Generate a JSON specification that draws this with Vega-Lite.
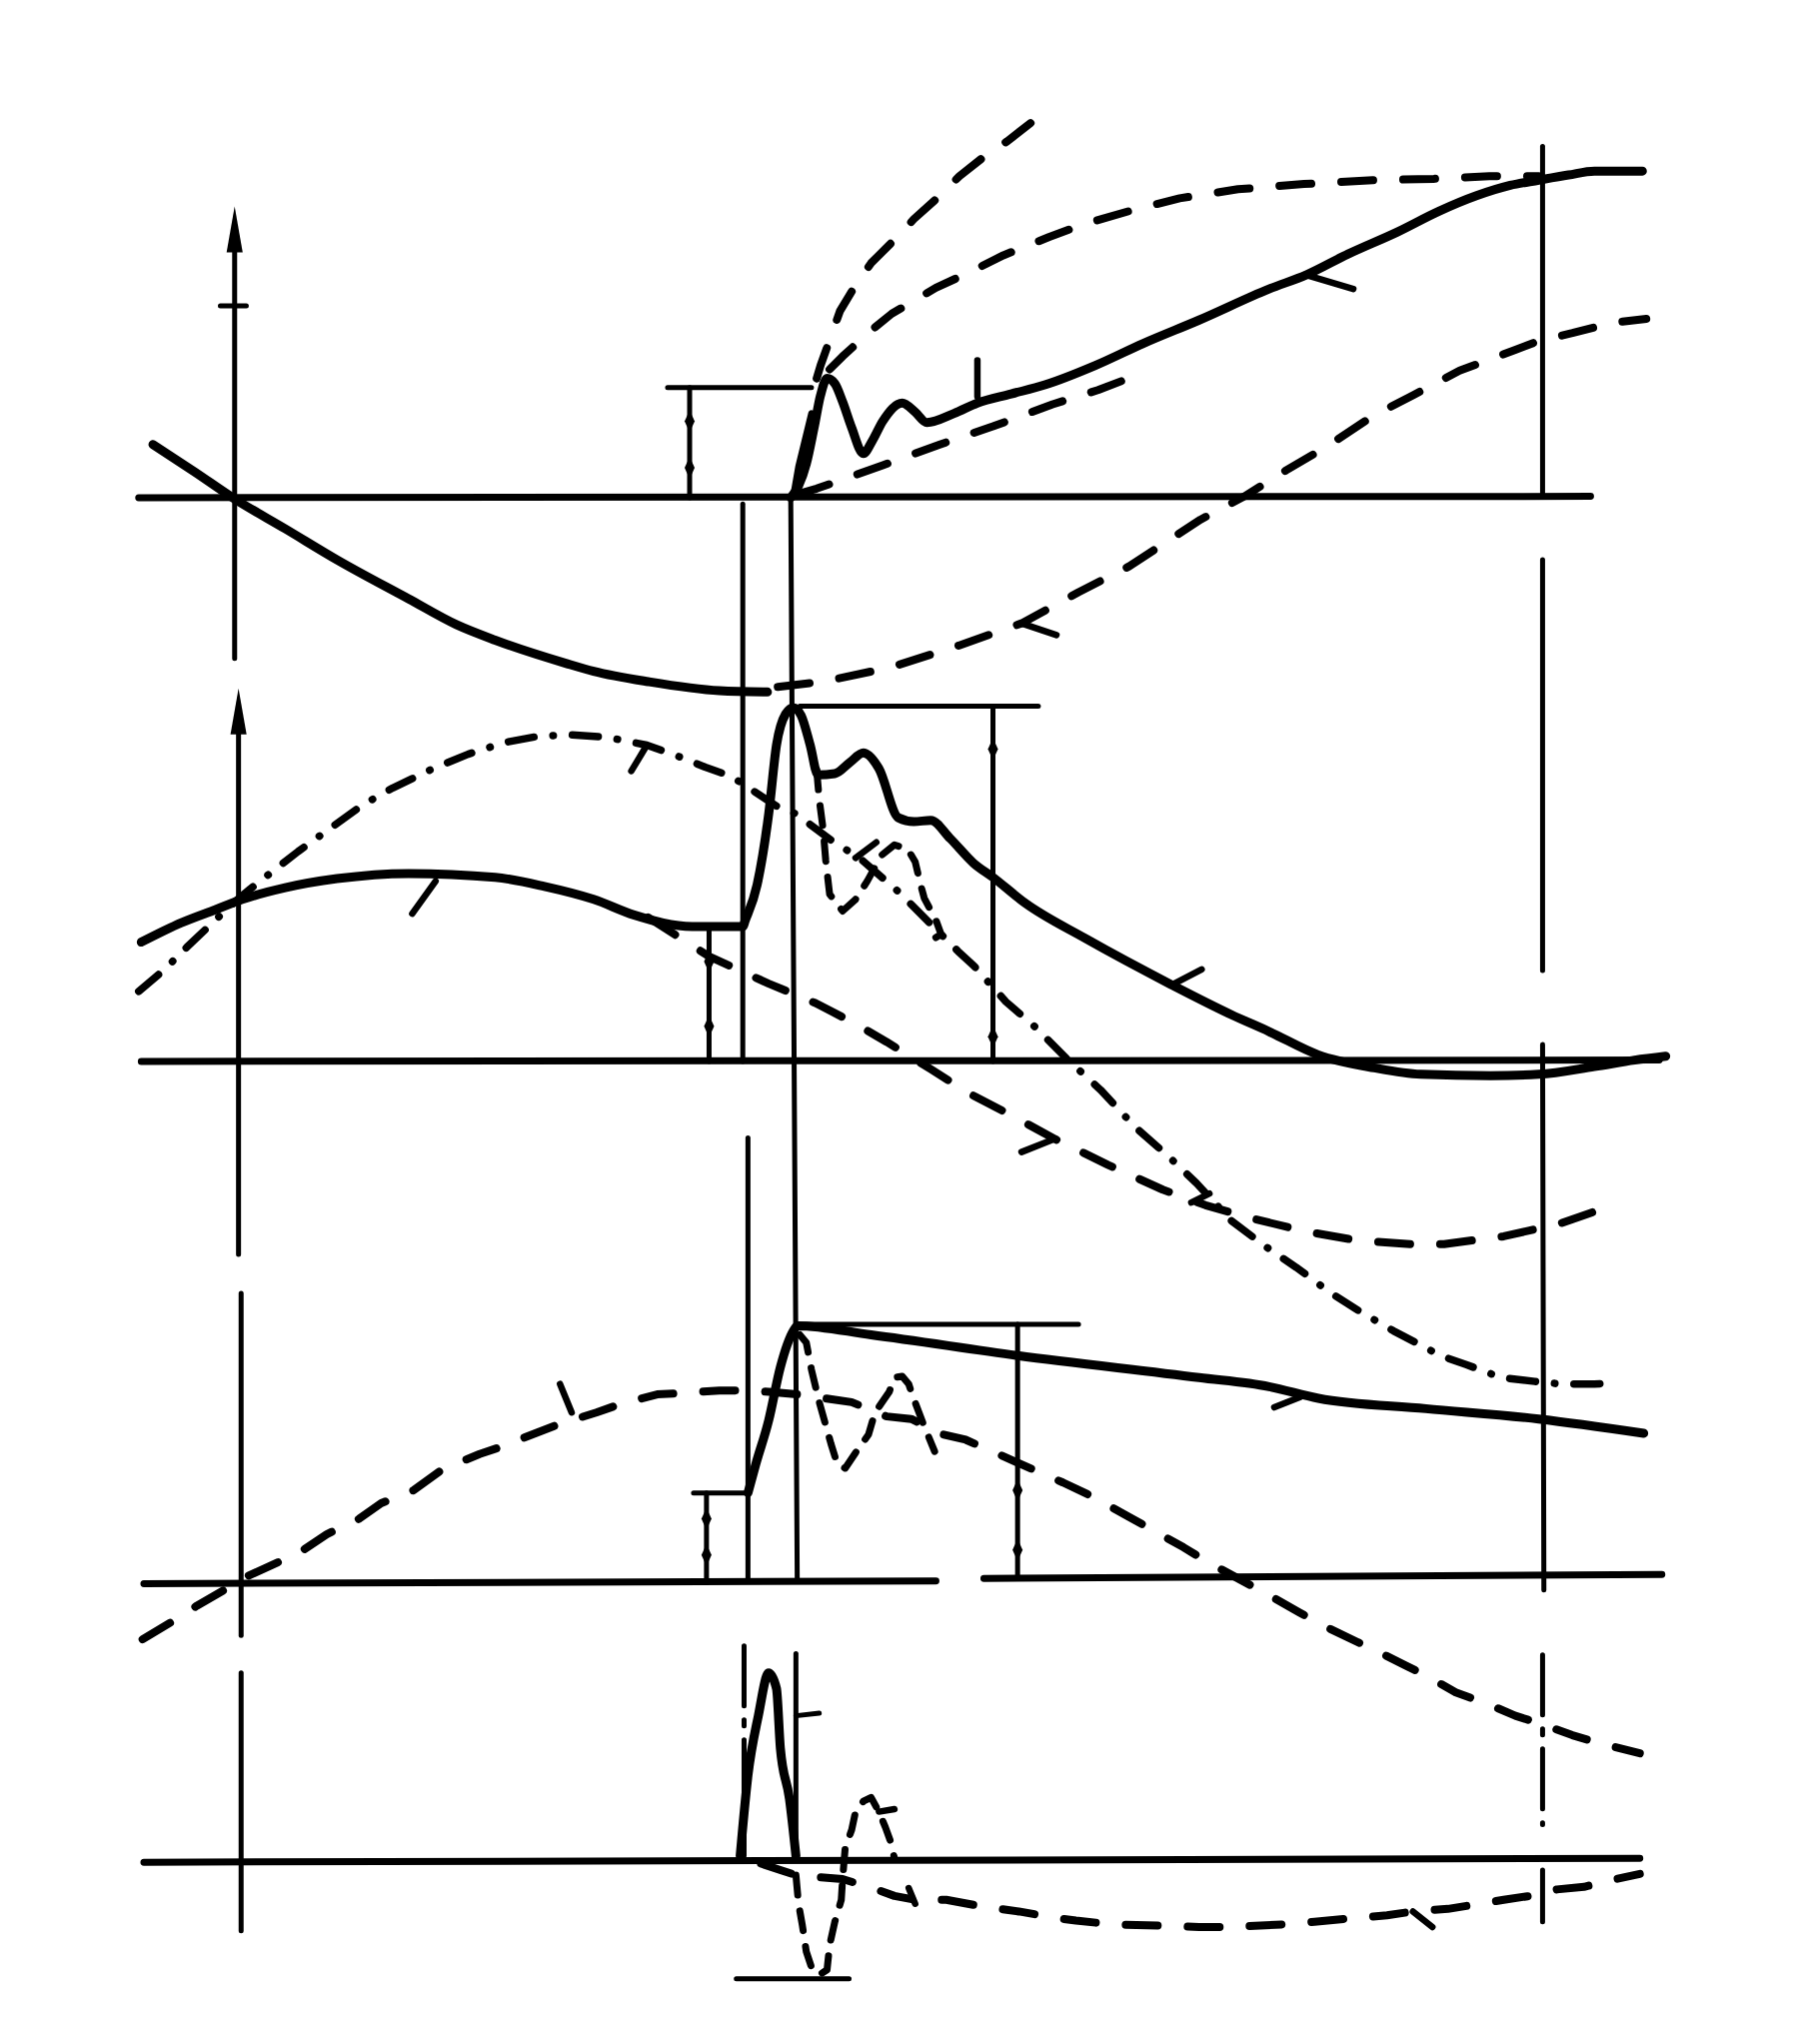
{
"$schema": "https://vega.github.io/schema/vega-lite/v6.json",
"width": 1821, "height": 2033,
"autosize": {"type": "fit", "contains": "padding"},
"padding": 0,
"background": "white",
"config": {"view": {"stroke": null}},
"datasets": {
"curve": [
{"s":"c1","x":118,"y":343},{"s":"c1","x":150,"y":364},{"s":"c1","x":181,"y":385},{"s":"c1","x":220,"y":408},{"s":"c1","x":260,"y":432},{"s":"c1","x":315,"y":462},{"s":"c1","x":352,"y":482},{"s":"c1","x":382,"y":494},{"s":"c1","x":437,"y":512},{"s":"c1","x":458,"y":518},{"s":"c1","x":500,"y":526},{"s":"c1","x":555,"y":533},{"s":"c1","x":592,"y":534},
{"s":"c2","x":610,"y":384},{"s":"c2","x":616,"y":375},{"s":"c2","x":622,"y":358},{"s":"c2","x":628,"y":330},{"s":"c2","x":633,"y":305},{"s":"c2","x":638,"y":292},{"s":"c2","x":644,"y":296},{"s":"c2","x":650,"y":310},{"s":"c2","x":657,"y":330},{"s":"c2","x":666,"y":350},{"s":"c2","x":673,"y":340},{"s":"c2","x":681,"y":325},{"s":"c2","x":696,"y":311},{"s":"c2","x":706,"y":318},{"s":"c2","x":715,"y":326},{"s":"c2","x":736,"y":319},{"s":"c2","x":754,"y":311},{"s":"c2","x":780,"y":304},{"s":"c2","x":806,"y":297},{"s":"c2","x":845,"y":282},{"s":"c2","x":882,"y":265},{"s":"c2","x":925,"y":247},{"s":"c2","x":979,"y":223},{"s":"c2","x":1008,"y":212},{"s":"c2","x":1040,"y":196},{"s":"c2","x":1078,"y":179},{"s":"c2","x":1110,"y":163},{"s":"c2","x":1139,"y":151},{"s":"c2","x":1165,"y":143},{"s":"c2","x":1187,"y":139},{"s":"c2","x":1210,"y":135},{"s":"c2","x":1230,"y":132},{"s":"c2","x":1267,"y":132},
{"s":"c3","x":109,"y":727},{"s":"c3","x":140,"y":712},{"s":"c3","x":166,"y":702},{"s":"c3","x":187,"y":694},{"s":"c3","x":220,"y":685},{"s":"c3","x":260,"y":678},{"s":"c3","x":315,"y":674},{"s":"c3","x":382,"y":677},{"s":"c3","x":420,"y":684},{"s":"c3","x":458,"y":694},{"s":"c3","x":489,"y":706},{"s":"c3","x":534,"y":715},{"s":"c3","x":573,"y":715},{"s":"c3","x":575,"y":710},{"s":"c3","x":584,"y":683},{"s":"c3","x":593,"y":628},{"s":"c3","x":599,"y":575},{"s":"c3","x":606,"y":551},{"s":"c3","x":612,"y":546},{"s":"c3","x":618,"y":552},{"s":"c3","x":625,"y":575},{"s":"c3","x":631,"y":598},{"s":"c3","x":644,"y":597},{"s":"c3","x":656,"y":588},{"s":"c3","x":666,"y":581},{"s":"c3","x":678,"y":593},{"s":"c3","x":693,"y":631},{"s":"c3","x":705,"y":634},{"s":"c3","x":718,"y":633},{"s":"c3","x":733,"y":647},{"s":"c3","x":751,"y":666},{"s":"c3","x":766,"y":677},{"s":"c3","x":791,"y":697},{"s":"c3","x":837,"y":724},{"s":"c3","x":904,"y":760},{"s":"c3","x":950,"y":783},{"s":"c3","x":979,"y":796},{"s":"c3","x":1017,"y":814},{"s":"c3","x":1060,"y":824},{"s":"c3","x":1096,"y":829},{"s":"c3","x":1150,"y":830},{"s":"c3","x":1187,"y":829},{"s":"c3","x":1230,"y":823},{"s":"c3","x":1261,"y":818},{"s":"c3","x":1285,"y":815},
{"s":"c4","x":577,"y":1152},{"s":"c4","x":583,"y":1130},{"s":"c4","x":593,"y":1096},{"s":"c4","x":602,"y":1055},{"s":"c4","x":612,"y":1027},{"s":"c4","x":615,"y":1023},{"s":"c4","x":672,"y":1030},{"s":"c4","x":785,"y":1046},{"s":"c4","x":925,"y":1063},{"s":"c4","x":979,"y":1070},{"s":"c4","x":1017,"y":1079},{"s":"c4","x":1100,"y":1087},{"s":"c4","x":1187,"y":1095},{"s":"c4","x":1268,"y":1106},
{"s":"c5","x":571,"y":1432},{"s":"c5","x":577,"y":1370},{"s":"c5","x":585,"y":1324},{"s":"c5","x":593,"y":1291},{"s":"c5","x":599,"y":1303},{"s":"c5","x":602,"y":1349},{"s":"c5","x":609,"y":1388},{"s":"c5","x":614,"y":1432}
],
"tick": [
{"s":"t1","x":1007,"y":212},{"s":"t1","x":1044,"y":223},
{"s":"t2","x":754,"y":278},{"s":"t2","x":754,"y":306},
{"s":"t3","x":788,"y":481},{"s":"t3","x":815,"y":490},
{"s":"t4","x":336,"y":680},{"s":"t4","x":318,"y":705},
{"s":"t5","x":499,"y":575},{"s":"t5","x":487,"y":595},
{"s":"t6","x":904,"y":760},{"s":"t6","x":927,"y":748},
{"s":"t7","x":813,"y":879},{"s":"t7","x":788,"y":889},
{"s":"t8","x":432,"y":1068},{"s":"t8","x":441,"y":1090},
{"s":"t9","x":983,"y":1086},{"s":"t9","x":1003,"y":1078},
{"s":"t10","x":1090,"y":1475},{"s":"t10","x":1105,"y":1487},
{"s":"t11","x":701,"y":1457},{"s":"t11","x":706,"y":1469},
{"s":"t12","x":678,"y":1398},{"s":"t12","x":690,"y":1396},
{"s":"t13","x":660,"y":662},{"s":"t13","x":676,"y":650},
{"s":"t14","x":919,"y":928},{"s":"t14","x":933,"y":921},
{"s":"t15","x":626,"y":319},{"s":"t15","x":616,"y":360},{"s":"t15","x":612,"y":383}
],
"rule": [
{"s":"a1","x":181,"y":190},{"s":"a1","x":181,"y":508},
{"s":"a1t","x":170,"y":236},{"s":"a1t","x":190,"y":236},
{"s":"a2","x":184,"y":560},{"s":"a2","x":184,"y":968},
{"s":"a3","x":186,"y":998},{"s":"a3","x":186,"y":1262},
{"s":"a4","x":186,"y":1291},{"s":"a4","x":186,"y":1490},
{"s":"v573","x":573,"y":389},{"s":"v573","x":573,"y":819},
{"s":"v610","x":610,"y":384},{"s":"v610","x":615,"y":1220},
{"s":"v577","x":577,"y":878},{"s":"v577","x":577,"y":1218},
{"s":"d1h","x":515,"y":299},{"s":"d1h","x":626,"y":299},
{"s":"d1v","x":532,"y":299},{"s":"d1v","x":532,"y":384},
{"s":"d2h","x":527,"y":714},{"s":"d2h","x":573,"y":714},
{"s":"d2v","x":547,"y":714},{"s":"d2v","x":547,"y":819},
{"s":"r2h","x":617,"y":545},{"s":"r2h","x":801,"y":545},
{"s":"r2v","x":766,"y":545},{"s":"r2v","x":766,"y":819},
{"s":"v1a","x":1190,"y":113},{"s":"v1a","x":1190,"y":383},
{"s":"v1b","x":1190,"y":432},{"s":"v1b","x":1190,"y":749},
{"s":"v1c","x":1190,"y":806},{"s":"v1c","x":1191,"y":1227},
{"s":"v1e","x":1190,"y":1443},{"s":"v1e","x":1190,"y":1483},
{"s":"d3h","x":535,"y":1152},{"s":"d3h","x":577,"y":1152},
{"s":"d3v","x":545,"y":1152},{"s":"d3v","x":545,"y":1219},
{"s":"r3h","x":615,"y":1022},{"s":"r3h","x":832,"y":1022},
{"s":"r3v","x":785,"y":1022},{"s":"r3v","x":785,"y":1218},
{"s":"v614","x":614,"y":1276},{"s":"v614","x":614,"y":1432},
{"s":"v614t","x":614,"y":1324},{"s":"v614t","x":632,"y":1322},
{"s":"p4h","x":568,"y":1527},{"s":"p4h","x":655,"y":1527}
],
"base": [
{"s":"b1","x":107,"y":384},{"s":"b1","x":1227,"y":383},
{"s":"b2","x":109,"y":819},{"s":"b2","x":1280,"y":818},
{"s":"b3a","x":111,"y":1222},{"s":"b3a","x":722,"y":1220},
{"s":"b3b","x":759,"y":1218},{"s":"b3b","x":1282,"y":1215},
{"s":"b4","x":111,"y":1437},{"s":"b4","x":1265,"y":1434}
],
"dash": [
{"s":"d1","x":630,"y":292},{"s":"d1","x":633,"y":282},{"s":"d1","x":648,"y":240},{"s":"d1","x":660,"y":220},{"s":"d1","x":672,"y":203},{"s":"d1","x":693,"y":182},{"s":"d1","x":705,"y":169},{"s":"d1","x":725,"y":151},{"s":"d1","x":740,"y":136},{"s":"d1","x":759,"y":121},{"s":"d1","x":777,"y":109},{"s":"d1","x":795,"y":95},
{"s":"d2","x":640,"y":285},{"s":"d2","x":650,"y":275},{"s":"d2","x":672,"y":255},{"s":"d2","x":688,"y":242},{"s":"d2","x":707,"y":231},{"s":"d2","x":722,"y":222},{"s":"d2","x":746,"y":211},{"s":"d2","x":774,"y":197},{"s":"d2","x":809,"y":183},{"s":"d2","x":836,"y":173},{"s":"d2","x":874,"y":162},{"s":"d2","x":910,"y":153},{"s":"d2","x":955,"y":146},{"s":"d2","x":1006,"y":142},{"s":"d2","x":1059,"y":139},{"s":"d2","x":1106,"y":138},{"s":"d2","x":1149,"y":136},{"s":"d2","x":1187,"y":136},
{"s":"d3","x":616,"y":381},{"s":"d3","x":630,"y":377},{"s":"d3","x":653,"y":369},{"s":"d3","x":681,"y":359},{"s":"d3","x":725,"y":343},{"s":"d3","x":766,"y":329},{"s":"d3","x":812,"y":312},{"s":"d3","x":847,"y":301},{"s":"d3","x":881,"y":288},
{"s":"d4","x":600,"y":530},{"s":"d4","x":635,"y":526},{"s":"d4","x":687,"y":515},{"s":"d4","x":740,"y":498},{"s":"d4","x":788,"y":481},{"s":"d4","x":832,"y":457},{"s":"d4","x":871,"y":437},{"s":"d4","x":926,"y":401},{"s":"d4","x":960,"y":383},{"s":"d4","x":992,"y":363},{"s":"d4","x":1026,"y":343},{"s":"d4","x":1059,"y":321},{"s":"d4","x":1090,"y":305},{"s":"d4","x":1126,"y":286},{"s":"d4","x":1169,"y":270},{"s":"d4","x":1187,"y":263},{"s":"d4","x":1213,"y":257},{"s":"d4","x":1244,"y":249},{"s":"d4","x":1270,"y":246},
{"s":"d5","x":500,"y":708},{"s":"d5","x":547,"y":738},{"s":"d5","x":593,"y":759},{"s":"d5","x":629,"y":774},{"s":"d5","x":660,"y":790},{"s":"d5","x":684,"y":804},{"s":"d5","x":718,"y":825},{"s":"d5","x":748,"y":844},{"s":"d5","x":779,"y":860},{"s":"d5","x":814,"y":879},{"s":"d5","x":855,"y":899},{"s":"d5","x":897,"y":918},{"s":"d5","x":930,"y":930},{"s":"d5","x":965,"y":940},{"s":"d5","x":1006,"y":950},{"s":"d5","x":1046,"y":957},{"s":"d5","x":1088,"y":960},{"s":"d5","x":1114,"y":960},{"s":"d5","x":1160,"y":954},{"s":"d5","x":1204,"y":944},{"s":"d5","x":1247,"y":929},
{"s":"d8","x":110,"y":1265},{"s":"d8","x":135,"y":1250},{"s":"d8","x":152,"y":1239},{"s":"d8","x":178,"y":1224},{"s":"d8","x":185,"y":1219},{"s":"d8","x":231,"y":1198},{"s":"d8","x":252,"y":1184},{"s":"d8","x":277,"y":1172},{"s":"d8","x":294,"y":1160},{"s":"d8","x":319,"y":1150},{"s":"d8","x":341,"y":1134},{"s":"d8","x":370,"y":1122},{"s":"d8","x":385,"y":1117},{"s":"d8","x":413,"y":1106},{"s":"d8","x":431,"y":1099},{"s":"d8","x":460,"y":1090},{"s":"d8","x":480,"y":1083},{"s":"d8","x":507,"y":1076},{"s":"d8","x":525,"y":1075},{"s":"d8","x":555,"y":1073},{"s":"d8","x":567,"y":1073},{"s":"d8","x":593,"y":1074},{"s":"d8","x":615,"y":1076},{"s":"d8","x":657,"y":1082},{"s":"d8","x":684,"y":1093},{"s":"d8","x":703,"y":1095},{"s":"d8","x":728,"y":1107},{"s":"d8","x":745,"y":1111},{"s":"d8","x":770,"y":1122},{"s":"d8","x":788,"y":1130},{"s":"d8","x":820,"y":1144},{"s":"d8","x":841,"y":1154},{"s":"d8","x":870,"y":1170},{"s":"d8","x":888,"y":1180},{"s":"d8","x":913,"y":1194},{"s":"d8","x":931,"y":1205},{"s":"d8","x":979,"y":1231},{"s":"d8","x":1002,"y":1244},{"s":"d8","x":1018,"y":1253},{"s":"d8","x":1047,"y":1267},{"s":"d8","x":1062,"y":1274},{"s":"d8","x":1084,"y":1285},{"s":"d8","x":1102,"y":1294},{"s":"d8","x":1123,"y":1306},{"s":"d8","x":1148,"y":1315},{"s":"d8","x":1169,"y":1324},{"s":"d8","x":1188,"y":1330},{"s":"d8","x":1213,"y":1339},{"s":"d8","x":1230,"y":1344},{"s":"d8","x":1265,"y":1353},
{"s":"d9","x":587,"y":1438},{"s":"d9","x":602,"y":1443},{"s":"d9","x":614,"y":1447},{"s":"d9","x":650,"y":1450},{"s":"d9","x":673,"y":1457},{"s":"d9","x":690,"y":1463},{"s":"d9","x":706,"y":1466},{"s":"d9","x":730,"y":1466},{"s":"d9","x":757,"y":1471},{"s":"d9","x":786,"y":1475},{"s":"d9","x":815,"y":1480},{"s":"d9","x":830,"y":1482},{"s":"d9","x":858,"y":1485},{"s":"d9","x":899,"y":1486},{"s":"d9","x":925,"y":1487},{"s":"d9","x":948,"y":1487},{"s":"d9","x":989,"y":1485},{"s":"d9","x":1014,"y":1483},{"s":"d9","x":1046,"y":1480},{"s":"d9","x":1070,"y":1478},{"s":"d9","x":1090,"y":1475},{"s":"d9","x":1117,"y":1473},{"s":"d9","x":1142,"y":1469},{"s":"d9","x":1160,"y":1466},{"s":"d9","x":1187,"y":1462},{"s":"d9","x":1201,"y":1458},{"s":"d9","x":1222,"y":1456},{"s":"d9","x":1242,"y":1451},{"s":"d9","x":1265,"y":1446}
],
"dashshort": [
{"s":"d6","x":630,"y":594},{"s":"d6","x":632,"y":617},{"s":"d6","x":635,"y":640},{"s":"d6","x":637,"y":664},{"s":"d6","x":640,"y":690},{"s":"d6","x":650,"y":703},{"s":"d6","x":660,"y":694},{"s":"d6","x":669,"y":680},{"s":"d6","x":680,"y":660},{"s":"d6","x":690,"y":652},{"s":"d6","x":700,"y":655},{"s":"d6","x":706,"y":665},{"s":"d6","x":710,"y":682},{"s":"d6","x":713,"y":693},{"s":"d6","x":722,"y":710},{"s":"d6","x":726,"y":721},{"s":"d6","x":716,"y":727},
{"s":"d7","x":617,"y":1030},{"s":"d7","x":622,"y":1036},{"s":"d7","x":626,"y":1057},{"s":"d7","x":632,"y":1082},{"s":"d7","x":641,"y":1114},{"s":"d7","x":646,"y":1130},{"s":"d7","x":652,"y":1133},{"s":"d7","x":660,"y":1121},{"s":"d7","x":670,"y":1107},{"s":"d7","x":675,"y":1090},{"s":"d7","x":686,"y":1074},{"s":"d7","x":690,"y":1063},{"s":"d7","x":696,"y":1062},{"s":"d7","x":701,"y":1068},{"s":"d7","x":704,"y":1077},{"s":"d7","x":712,"y":1098},{"s":"d7","x":721,"y":1120},
{"s":"d10","x":614,"y":1447},{"s":"d10","x":616,"y":1469},{"s":"d10","x":619,"y":1486},{"s":"d10","x":622,"y":1506},{"s":"d10","x":626,"y":1518},{"s":"d10","x":632,"y":1524},{"s":"d10","x":638,"y":1520},{"s":"d10","x":640,"y":1501},{"s":"d10","x":644,"y":1483},{"s":"d10","x":649,"y":1466},{"s":"d10","x":650,"y":1450},{"s":"d10","x":652,"y":1426},{"s":"d10","x":657,"y":1412},{"s":"d10","x":660,"y":1398},{"s":"d10","x":666,"y":1390},{"s":"d10","x":672,"y":1387},{"s":"d10","x":678,"y":1398},{"s":"d10","x":683,"y":1410},{"s":"d10","x":687,"y":1421},{"s":"d10","x":690,"y":1434}
],
"dashdot": [
{"s":"e1","x":107,"y":765},{"s":"e1","x":127,"y":748},{"s":"e1","x":144,"y":731},{"s":"e1","x":164,"y":712},{"s":"e1","x":181,"y":696},{"s":"e1","x":193,"y":686},{"s":"e1","x":207,"y":675},{"s":"e1","x":230,"y":657},{"s":"e1","x":255,"y":639},{"s":"e1","x":280,"y":621},{"s":"e1","x":303,"y":608},{"s":"e1","x":332,"y":594},{"s":"e1","x":361,"y":582},{"s":"e1","x":389,"y":573},{"s":"e1","x":416,"y":568},{"s":"e1","x":441,"y":567},{"s":"e1","x":469,"y":569},{"s":"e1","x":499,"y":575},{"s":"e1","x":527,"y":585},{"s":"e1","x":544,"y":592},{"s":"e1","x":564,"y":599},{"s":"e1","x":599,"y":622},{"s":"e1","x":614,"y":628},{"s":"e1","x":642,"y":649},{"s":"e1","x":663,"y":662},{"s":"e1","x":693,"y":688},{"s":"e1","x":739,"y":734},{"s":"e1","x":751,"y":745},{"s":"e1","x":776,"y":773},{"s":"e1","x":798,"y":792},{"s":"e1","x":824,"y":818},{"s":"e1","x":849,"y":841},{"s":"e1","x":876,"y":870},{"s":"e1","x":901,"y":892},{"s":"e1","x":923,"y":913},{"s":"e1","x":950,"y":942},{"s":"e1","x":975,"y":961},{"s":"e1","x":1000,"y":978},{"s":"e1","x":1027,"y":998},{"s":"e1","x":1049,"y":1012},{"s":"e1","x":1075,"y":1027},{"s":"e1","x":1096,"y":1038},{"s":"e1","x":1111,"y":1046},{"s":"e1","x":1131,"y":1053},{"s":"e1","x":1158,"y":1063},{"s":"e1","x":1184,"y":1066},{"s":"e1","x":1204,"y":1068},{"s":"e1","x":1230,"y":1068},{"s":"e1","x":1248,"y":1067}
],
"vdash": [
{"s":"v1d","x":1190,"y":1277},{"s":"v1d","x":1190,"y":1408},
{"s":"v574","x":574,"y":1270},{"s":"v574","x":574,"y":1432}
],
"arrows": [
{"x":181,"y":177},{"x":184,"y":549}
],
"blobs": [
{"x":532,"y":325},{"x":532,"y":361},
{"x":547,"y":742},{"x":547,"y":792},
{"x":766,"y":578},{"x":766,"y":800},
{"x":545,"y":1172},{"x":545,"y":1200},
{"x":785,"y":1150},{"x":785,"y":1196}
]
},
"encoding": {
"x": {"field":"x","type":"quantitative","scale":{"domain":[0,1404],"nice":false,"zero":false},"axis":null},
"y": {"field":"y","type":"quantitative","scale":{"domain":[0,1568],"reverse":true,"nice":false,"zero":false},"axis":null}
},
"layer": [
{"data":{"name":"base"},"mark":{"type":"line","color":"black","strokeWidth":7,"strokeCap":"round"},"encoding":{"detail":{"field":"s"},"order":{"value":null}}},
{"data":{"name":"rule"},"mark":{"type":"line","color":"black","strokeWidth":5,"strokeCap":"round"},"encoding":{"detail":{"field":"s"},"order":{"value":null}}},
{"data":{"name":"dash"},"mark":{"type":"line","color":"black","strokeWidth":8,"strokeCap":"round","strokeJoin":"round","strokeDash":[32,30]},"encoding":{"detail":{"field":"s"},"order":{"value":null}}},
{"data":{"name":"dashshort"},"mark":{"type":"line","color":"black","strokeWidth":7,"strokeCap":"round","strokeJoin":"round","strokeDash":[20,16]},"encoding":{"detail":{"field":"s"},"order":{"value":null}}},
{"data":{"name":"dashdot"},"mark":{"type":"line","color":"black","strokeWidth":7.5,"strokeCap":"round","strokeJoin":"round","strokeDash":[26,19,0.5,19]},"encoding":{"detail":{"field":"s"},"order":{"value":null}}},
{"data":{"name":"vdash"},"mark":{"type":"line","color":"black","strokeWidth":5,"strokeCap":"round","strokeDash":[60,14,6,14]},"encoding":{"detail":{"field":"s"},"order":{"value":null}}},
{"data":{"name":"curve"},"mark":{"type":"line","color":"black","strokeWidth":9,"strokeCap":"round","strokeJoin":"round","interpolate":"monotone"},"encoding":{"detail":{"field":"s"},"order":{"value":null}}},
{"data":{"name":"tick"},"mark":{"type":"line","color":"black","strokeWidth":6.5,"strokeCap":"round"},"encoding":{"detail":{"field":"s"},"order":{"value":null}}},
{"data":{"name":"arrows"},"mark":{"type":"point","filled":true,"color":"black","opacity":1,"shape":"M0,-1L0.35,1L-0.35,1Z","size":2116}},
{"data":{"name":"blobs"},"mark":{"type":"point","filled":true,"color":"black","opacity":1,"shape":"M0,-1L0.45,0L0,1L-0.45,0Z","size":500}}
]
}
